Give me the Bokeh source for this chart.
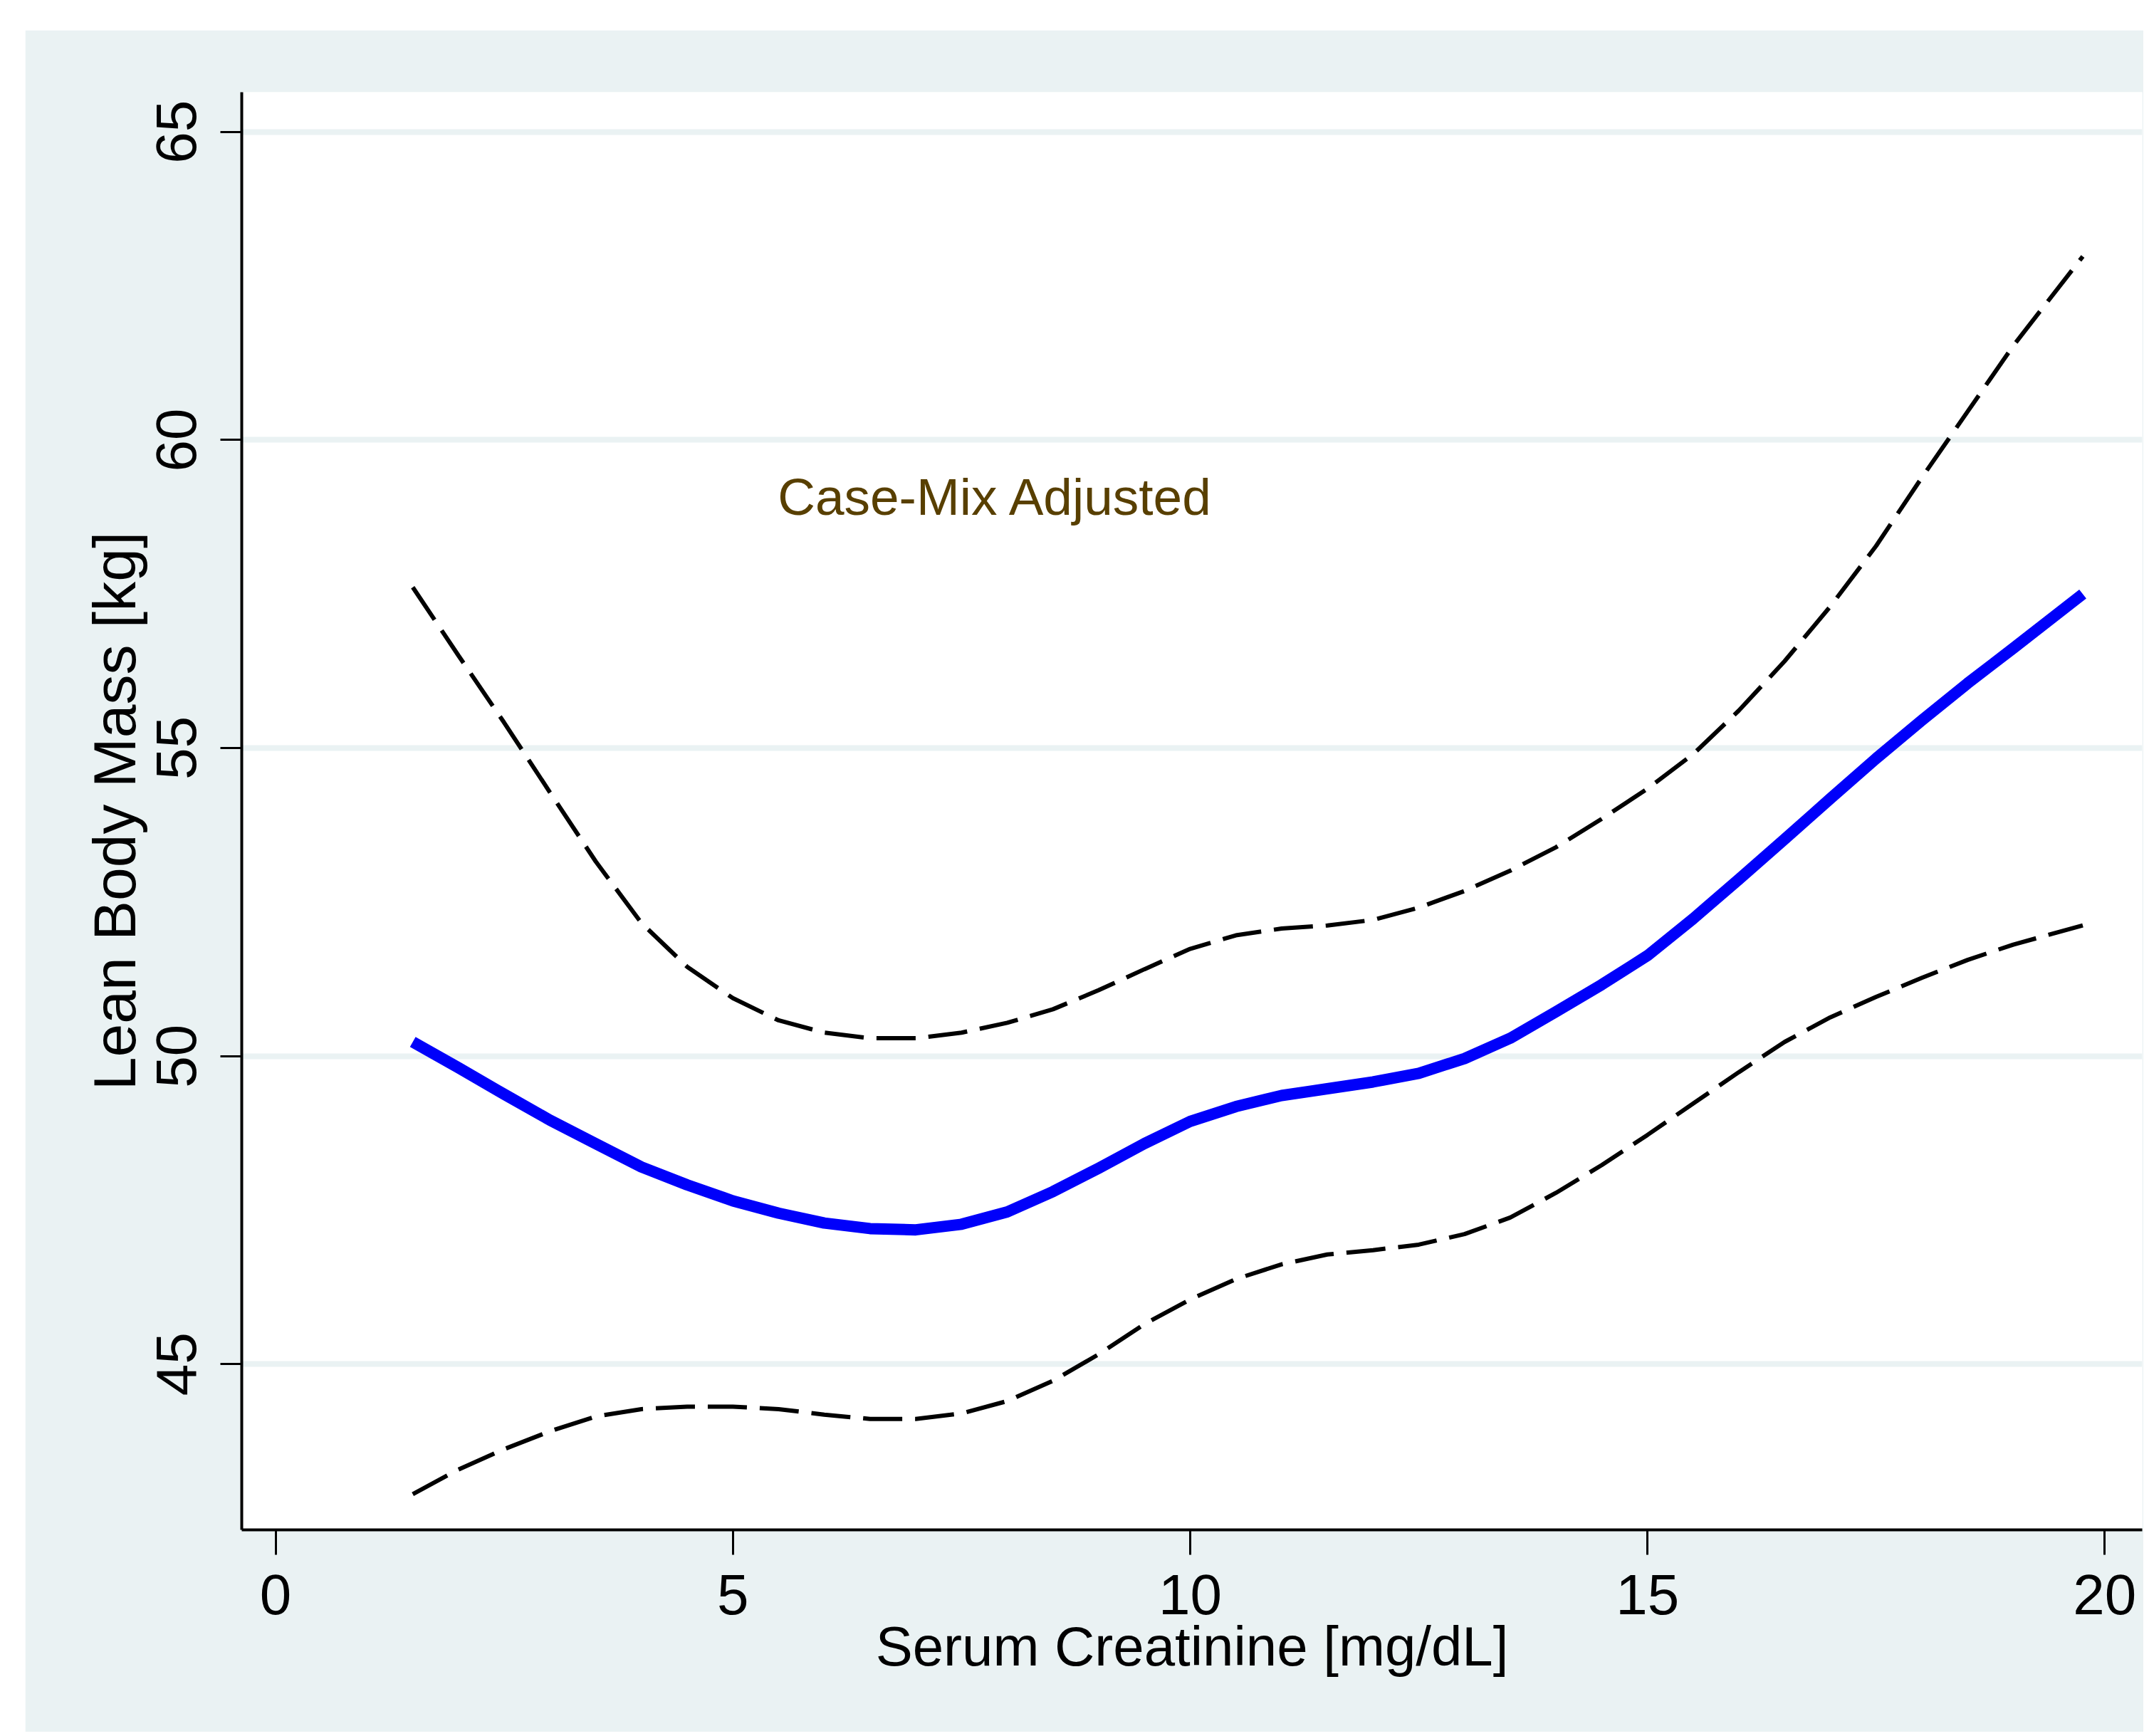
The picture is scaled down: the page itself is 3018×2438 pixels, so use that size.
from bokeh.plotting import figure
from bokeh.models import Range1d, FixedTicker, Spacer, Label
from bokeh.layouts import column, row
from bokeh.embed import file_html
from bokeh.resources import INLINE

# ---- data ----
creat_mean = [1.5, 2.0, 2.5, 3.0, 3.5, 4.0, 4.5, 5.0, 5.5, 6.0, 6.5, 7.0, 7.5, 8.0, 8.5, 9.0, 9.5,
              10.0, 10.5, 11.0, 11.5, 12.0, 12.5, 13.0, 13.5, 14.0, 14.5, 15.0, 15.5, 16.0, 16.5,
              17.0, 17.5, 18.0, 18.5, 19.0, 19.76]
lbm_mean = [50.23, 49.81, 49.38, 48.96, 48.58, 48.20, 47.91, 47.65, 47.45, 47.29, 47.20, 47.18, 47.27,
            47.47, 47.80, 48.18, 48.58, 48.94, 49.18, 49.36, 49.47, 49.58, 49.72, 49.96, 50.29, 50.72,
            51.16, 51.63, 52.23, 52.87, 53.52, 54.18, 54.83, 55.45, 56.05, 56.62, 57.50]

creat_upper = [1.5, 2.0, 2.5, 3.0, 3.5, 4.0, 4.5, 5.0, 5.5, 6.0, 6.5, 7.0, 7.5, 8.0, 8.5, 9.0, 9.5,
               10.0, 10.5, 11.0, 11.5, 12.0, 12.5, 13.0, 13.5, 14.0, 14.5, 15.0, 15.5, 16.0, 16.5,
               17.0, 17.5, 18.0, 18.5, 19.0, 19.76]
lbm_upper = [57.61, 56.50, 55.41, 54.28, 53.16, 52.16, 51.45, 50.94, 50.58, 50.38, 50.29, 50.29, 50.38,
             50.54, 50.76, 51.07, 51.41, 51.74, 51.96, 52.07, 52.12, 52.21, 52.41, 52.68, 53.01, 53.39,
             53.85, 54.34, 54.90, 55.61, 56.41, 57.30, 58.28, 59.39, 60.46, 61.53, 62.98]

creat_lower = [1.5, 2.0, 2.5, 3.0, 3.5, 4.0, 4.5, 5.0, 5.5, 6.0, 6.5, 7.0, 7.5, 8.0, 8.5, 9.0, 9.5,
               10.0, 10.5, 11.0, 11.5, 12.0, 12.5, 13.0, 13.5, 14.0, 14.5, 15.0, 15.5, 16.0, 16.5,
               17.0, 17.5, 18.0, 18.5, 19.0, 19.76]
lbm_lower = [42.89, 43.29, 43.62, 43.91, 44.15, 44.27, 44.31, 44.31, 44.27, 44.18, 44.11, 44.11, 44.20,
             44.40, 44.73, 45.16, 45.65, 46.05, 46.38, 46.62, 46.78, 46.85, 46.94, 47.11, 47.38, 47.78,
             48.23, 48.72, 49.23, 49.74, 50.23, 50.63, 50.96, 51.27, 51.56, 51.81, 52.12]

x_ticks = [0, 5, 10, 15, 20]
y_ticks = [45, 50, 55, 60, 65]
x_title = "Serum Creatinine [mg/dL]"
y_title = "Lean Body Mass [kg]"
note_text = "Case-Mix Adjusted"

BG = "#eaf2f3"
FONT = "Liberation Sans"

p = figure(width=2975, height=2390,
           x_range=Range1d(-0.37, 20.41), y_range=Range1d(42.31, 65.645),
           output_backend="svg", toolbar_location=None,
           min_border_left=304, min_border_right=2,
           min_border_top=87, min_border_bottom=284)
p.background_fill_color = "white"
p.border_fill_color = BG
p.outline_line_color = None

# grid
p.xgrid.grid_line_color = None
p.ygrid.grid_line_color = BG
p.ygrid.grid_line_width = 8
p.ygrid.ticker = FixedTicker(ticks=y_ticks)

# axes
for ax in (p.xaxis[0], p.yaxis[0]):
    ax.axis_line_color = "black"
    ax.axis_line_width = 4
    ax.major_tick_line_color = "black"
    ax.major_tick_line_width = 3
    ax.major_tick_in = 0
    ax.minor_tick_line_color = None
    ax.major_label_text_font = FONT
    ax.major_label_text_font_size = "80px"
    ax.major_label_text_color = "black"
    ax.axis_label_text_font = FONT
    ax.axis_label_text_font_style = "normal"
    ax.axis_label_text_color = "black"

p.xaxis[0].ticker = FixedTicker(ticks=x_ticks)
p.yaxis[0].ticker = FixedTicker(ticks=y_ticks)
p.xaxis[0].major_tick_out = 35
p.yaxis[0].major_tick_out = 30
p.xaxis[0].major_label_standoff = 28
p.yaxis[0].major_label_standoff = 34
p.yaxis[0].major_label_orientation = "vertical"
p.xaxis[0].axis_label = x_title
p.yaxis[0].axis_label = y_title
p.xaxis[0].axis_label_text_font_size = "78px"
p.yaxis[0].axis_label_text_font_size = "84px"
p.xaxis[0].axis_label_standoff = -2
p.yaxis[0].axis_label_standoff = 10

# curves
p.line(creat_upper, lbm_upper, line_color="black", line_width=6, line_dash="55 18")
p.line(creat_lower, lbm_lower, line_color="black", line_width=6, line_dash="55 18")
p.line(creat_mean, lbm_mean, line_color="#0000fa", line_width=16, line_join="round")

p.add_layout(Label(x=5.49, y=59.08, text=note_text,
                   text_font="Liberation Sans",
                   text_font_size="73px", text_color="#583f00",
                   text_baseline="alphabetic", text_align="left"))

layout = column(Spacer(height=42), row(Spacer(width=35), p))
open("out.html", "w").write(file_html(layout, INLINE))
